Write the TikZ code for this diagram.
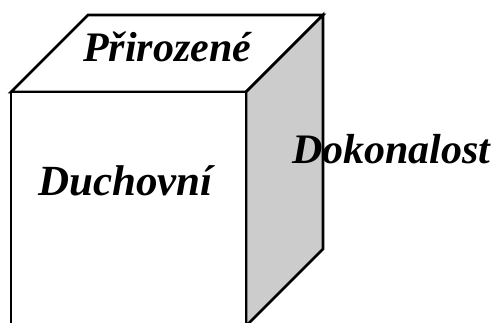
\documentclass[tikz,border=0pt]{standalone}
\usepackage{fontspec}
\setmainfont{Liberation Serif}
\definecolor{sidegray}{RGB}{204,204,204}
\tikzset{
  face/.style={draw=black, line width=2.8bp, line join=miter},
  lbl/.style={anchor=base west, inner sep=0pt, font=\fontsize{42bp}{50bp}\selectfont\bfseries\itshape}
}
\begin{document}
\begin{tikzpicture}[x=1bp,y=-1bp]
\useasboundingbox (0,0) rectangle (501,322);
\clip (0,0) rectangle (501,322);
\coordinate (ftl) at (11,92);
\coordinate (ftr) at (246,92);
\coordinate (fbl) at (11,340);
\coordinate (fbr) at (246,340);
\coordinate (btl) at (88,15);
\coordinate (btr) at (323,15);
\coordinate (bbr) at (323,249);
\coordinate (sbr) at (246,326);
\fill[white] (0,0) rectangle (501,322);
\draw[face, fill=white] (ftl) -- (btl) -- (btr) -- (ftr) -- cycle;
\draw[face, fill=sidegray] (ftr) -- (btr) -- (bbr) -- (sbr) -- cycle;
\draw[face, fill=white] (fbl) -- (ftl) -- (ftr) -- (fbr);
\node[lbl] (top) at (83,61) {Přirozené};
\node[lbl, font=\fontsize{43bp}{52bp}\selectfont\bfseries\itshape] (front) at (38,195) {Duchovní};
\node[lbl] (side) at (292,163) {Dokonalost};
\end{tikzpicture}
\end{document}
